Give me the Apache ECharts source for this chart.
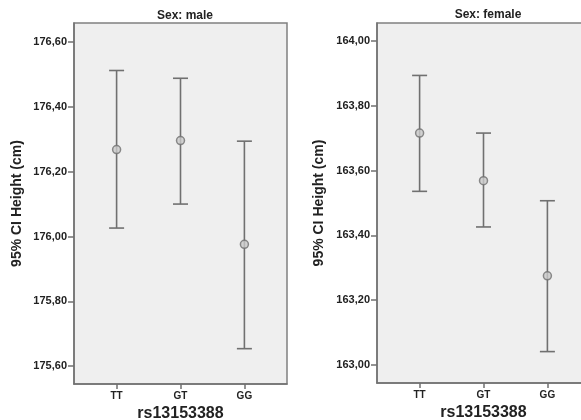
<!DOCTYPE html>
<html>
<head>
<meta charset="utf-8">
<script src="https://cdn.jsdelivr.net/npm/echarts@6/dist/echarts.min.js"></script>
<style>
  html, body { margin: 0; padding: 0; background: #fff; }
  #chart { width: 581px; height: 420px; }
</style>
</head>
<body>
<div id="chart"></div>
<script>
"use strict";

var categories = ['TT', 'GT', 'GG'];

// male panel
var maleMean = [176.268, 176.296, 175.976];
var maleLow = [176.026, 176.100, 175.654];
var maleHigh = [176.512, 176.488, 176.294];
var maleTicks = [175.6, 175.8, 176.0, 176.2, 176.4, 176.6];

// female panel
var femaleMean = [163.716, 163.569, 163.275];
var femaleLow = [163.536, 163.426, 163.041];
var femaleHigh = [163.894, 163.716, 163.507];
var femaleTicks = [163.0, 163.2, 163.4, 163.6, 163.8, 164.0];

var lineColor = '#707070';
var textColor = '#222';
var fontFam = '"Liberation Sans", Arial, sans-serif';

function commaFmt(v) {
    return Number(v).toFixed(2).replace('.', ',');
}

function barData(low, high) {
    return categories.map(function (c, i) { return [i + 1, low[i], high[i]]; });
}

function meanData(mean) {
    return categories.map(function (c, i) { return [i + 1, mean[i]]; });
}

function renderBar(params, api) {
    var x = api.value(0);
    var lo = api.coord([x, api.value(1)]);
    var hi = api.coord([x, api.value(2)]);
    var half = 7.5;
    var style = { stroke: lineColor, lineWidth: 1.6 };
    return {
        type: 'group',
        children: [
            { type: 'line', shape: { x1: hi[0], y1: hi[1], x2: lo[0], y2: lo[1] }, style: style },
            { type: 'line', shape: { x1: hi[0] - half, y1: hi[1], x2: hi[0] + half, y2: hi[1] }, style: style },
            { type: 'line', shape: { x1: lo[0] - half, y1: lo[1], x2: lo[0] + half, y2: lo[1] }, style: style }
        ]
    };
}

function xAxisFor(gridIndex) {
    return {
        type: 'value',
        gridIndex: gridIndex,
        min: 1 / 3,
        max: 11 / 3,
        name: 'rs13153388',
        nameLocation: 'middle',
        nameGap: 20,
        nameTextStyle: { fontSize: 16, fontWeight: 'bold', color: textColor, fontFamily: fontFam },
        axisLine: { show: true, lineStyle: { color: lineColor, width: 1.5 } },
        axisTick: { show: true, customValues: [1, 2, 3], length: 5, lineStyle: { color: lineColor, width: 1.5 } },
        axisLabel: {
            customValues: [1, 2, 3],
            margin: 7,
            fontSize: 10,
            fontWeight: 'bold',
            color: textColor,
            fontFamily: fontFam,
            formatter: function (v) { return categories[Math.round(v) - 1]; }
        },
        splitLine: { show: false }
    };
}

function yAxisFor(gridIndex, min, max, ticks, gap) {
    return {
        type: 'value',
        gridIndex: gridIndex,
        min: min,
        max: max,
        name: '95% CI Height (cm)',
        nameLocation: 'middle',
        nameGap: gap,
        nameTextStyle: { fontSize: 14, fontWeight: 'bold', color: textColor, fontFamily: fontFam },
        axisLine: { show: true, lineStyle: { color: lineColor, width: 1.5 } },
        axisTick: { show: true, customValues: ticks, length: 6, lineStyle: { color: lineColor, width: 1.5 } },
        axisLabel: {
            customValues: ticks,
            margin: 7,
            fontSize: 11,
            fontWeight: 'bold',
            color: textColor,
            fontFamily: fontFam,
            formatter: commaFmt
        },
        splitLine: { show: false }
    };
}

function meanSeries(idx, mean) {
    return {
        type: 'scatter',
        xAxisIndex: idx,
        yAxisIndex: idx,
        data: meanData(mean),
        symbol: 'circle',
        symbolSize: 8,
        itemStyle: { color: '#c9c9c9', borderColor: lineColor, borderWidth: 1.5 },
        z: 5
    };
}

function barSeries(idx, low, high) {
    return {
        type: 'custom',
        xAxisIndex: idx,
        yAxisIndex: idx,
        data: barData(low, high),
        renderItem: renderBar,
        encode: { x: 0, y: [1, 2] },
        z: 3
    };
}

var chart = echarts.init(document.getElementById('chart'), null, { renderer: 'canvas' });

var option = {
    animation: false,
    backgroundColor: '#fff',
    title: [{
        text: 'Sex: male',
        left: 180, top: 5, textAlign: 'center',
        textStyle: { fontSize: 12, fontWeight: 'bold', color: textColor, fontFamily: fontFam }
    }, {
        text: 'Sex: female',
        left: 483, top: 4, textAlign: 'center',
        textStyle: { fontSize: 12, fontWeight: 'bold', color: textColor, fontFamily: fontFam }
    }],
    grid: [{
        left: 74, top: 23, width: 213, height: 361,
        outerBoundsMode: 'none', containLabel: false,
        show: true, backgroundColor: '#efefef', borderColor: '#808080', borderWidth: 1.5
    }, {
        left: 377, top: 23, width: 213, height: 360,
        outerBoundsMode: 'none', containLabel: false,
        show: true, backgroundColor: '#efefef', borderColor: '#808080', borderWidth: 1.5
    }],
    xAxis: [xAxisFor(0), xAxisFor(1)],
    yAxis: [
        yAxisFor(0, 175.545, 176.6585, maleTicks, 50),
        yAxisFor(1, 162.944, 164.056, femaleTicks, 51)
    ],
    series: [
        barSeries(0, maleLow, maleHigh),
        meanSeries(0, maleMean),
        barSeries(1, femaleLow, femaleHigh),
        meanSeries(1, femaleMean)
    ]
};

chart.setOption(option);
</script>
</body>
</html>
